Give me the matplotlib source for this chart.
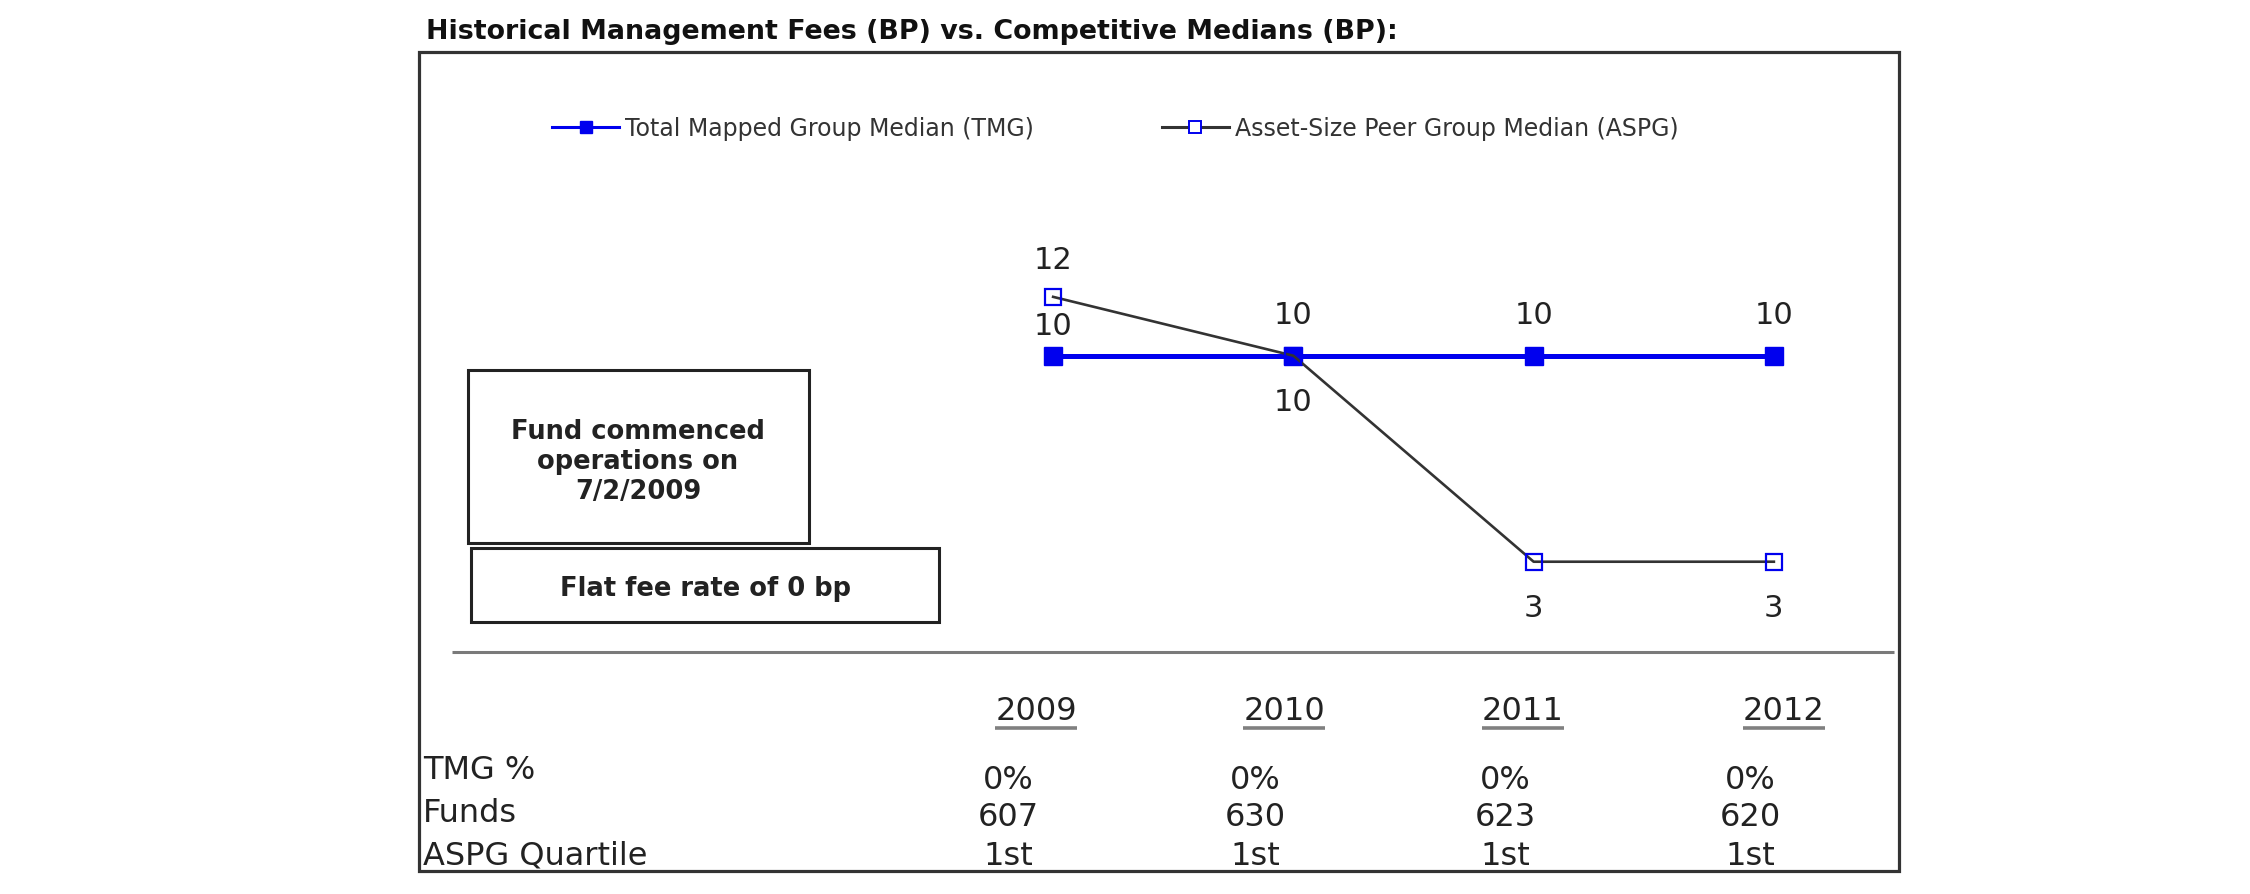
import matplotlib
matplotlib.use("Agg")
import matplotlib.pyplot as plt
from matplotlib.patches import Rectangle
from matplotlib.lines import Line2D

plt.rcParams['font.family'] = ['DejaVu Sans']

# ---- data ----
years = ['2009', '2010', '2011', '2012']
tmg_median = [10, 10, 10, 10]
aspg_median = [12, 10, 3, 3]
tmg_pct = ['0%', '0%', '0%', '0%']
funds = [607, 630, 623, 620]
aspg_quartile = ['1st', '1st', '1st', '1st']
row_labels = ['TMG %', 'Funds', 'ASPG Quartile']
series_names = ['Total Mapped Group Median (TMG)', 'Asset-Size Peer Group Median (ASPG)']
title_text = 'Historical Management Fees (BP) vs. Competitive Medians (BP):'
note_top = 'Fund commenced\noperations on\n7/2/2009'
note_bottom = 'Flat fee rate of 0 bp'

W, H = 2250, 895
fig = plt.figure(figsize=(W / 100, H / 100), dpi=100)
fig.patch.set_facecolor('white')

# overlay axes in pixel coordinates for layout elements
ov = fig.add_axes([0, 0, 1, 1])
ov.set_xlim(0, W)
ov.set_ylim(H, 0)
ov.axis('off')

# title
ov.text(426, 32, title_text, fontsize=19.4, fontweight='bold', color='#111111',
        ha='left', va='center')

# outer frame
ov.add_patch(Rectangle((419, 53), 1899 - 419, 872 - 53, fill=False,
                       edgecolor='#333333', linewidth=2.3))

# note boxes
ov.add_patch(Rectangle((468, 371), 809 - 468, 544 - 371, fill=False,
                       edgecolor='#222222', linewidth=2.2))
ov.add_patch(Rectangle((471, 549), 939 - 471, 623 - 549, fill=False,
                       edgecolor='#222222', linewidth=2.2))
ov.text(638, 462, note_top, fontsize=18.5, fontweight='bold', color='#222222',
        ha='center', va='center', linespacing=1.2)
ov.text(705, 589, note_bottom, fontsize=18.5, fontweight='bold', color='#222222',
        ha='center', va='center')

# separator line
ov.plot([452, 1894], [653, 653], color='#7a7a7a', linewidth=2.2,
        solid_capstyle='butt')

# table
header_x = [1036, 1284, 1523, 1784]
value_x = [1008, 1255, 1505, 1750]
header_y = 712
row_label_y = [771, 814, 856]
row_value_y = [781, 818, 857]
table_color = '#222222'

fig.canvas.draw()
renderer = fig.canvas.get_renderer()
inv = ov.transData.inverted()
for xh, yr in zip(header_x, years):
    t = ov.text(xh, header_y, yr, fontsize=23, color=table_color,
                ha='center', va='center')
    bb = t.get_window_extent(renderer)
    (x0, _), (x1, _) = inv.transform([(bb.x0, bb.y0), (bb.x1, bb.y1)])
    ov.plot([x0, x1], [729, 729], color='#808080', linewidth=2.6,
            solid_capstyle='butt')

for lab, yy in zip(row_labels, row_label_y):
    ov.text(423, yy, lab, fontsize=23, color=table_color, ha='left', va='center')

rows = [tmg_pct, [str(f) for f in funds], aspg_quartile]
for vals, yy in zip(rows, row_value_y):
    for xv, v in zip(value_x, vals):
        ov.text(xv, yy, v, fontsize=23, color=table_color, ha='center', va='center')

# ---- line chart ----
ax = fig.add_axes([933 / W, (H - 651) / H, 961 / W, 412 / H])
ax.set_xlim(-0.5, 3.5)
ax.set_ylim(0, 14)
ax.axis('off')
ax.patch.set_alpha(0)

xs = list(range(len(years)))
blue = '#0000ee'
ax.plot(xs, tmg_median, color=blue, linewidth=3.6, marker='s', markersize=13,
        markerfacecolor=blue, markeredgecolor=blue, zorder=3)
ax.plot(xs, aspg_median, color='#333333', linewidth=1.9, marker='s', markersize=12,
        markerfacecolor='none', markeredgecolor=blue, markeredgewidth=1.6, zorder=4)

lab_kw = dict(fontsize=22, color='#222222', ha='center', va='center',
              textcoords='offset points')
for x, t, a in zip(xs, tmg_median, aspg_median):
    if a > t:
        ax.annotate(str(a), (x, a), xytext=(0, 27), **lab_kw)
        ax.annotate(str(t), (x, t), xytext=(0, 22), **lab_kw)
    else:
        ax.annotate(str(t), (x, t), xytext=(0, 29.5), **lab_kw)
        ax.annotate(str(a), (x, a), xytext=(0, -33), **lab_kw)

# legend
h1 = Line2D([], [], color=blue, linewidth=2.2, marker='s', markersize=8,
            markerfacecolor=blue, markeredgecolor=blue)
h2 = Line2D([], [], color='#333333', linewidth=2.2, marker='s', markersize=8,
            markerfacecolor='white', markeredgecolor=blue, markeredgewidth=1.4)
leg = fig.legend([h1, h2], series_names, loc='center left',
                 bbox_to_anchor=(552 / W, 1 - 129 / H), ncol=2, frameon=False,
                 fontsize=17, handlelength=2.85, handletextpad=0.25,
                 columnspacing=5.4, borderpad=0, borderaxespad=0)
for txt in leg.get_texts():
    txt.set_color('#333333')

fig.savefig('out.png', dpi=100)
